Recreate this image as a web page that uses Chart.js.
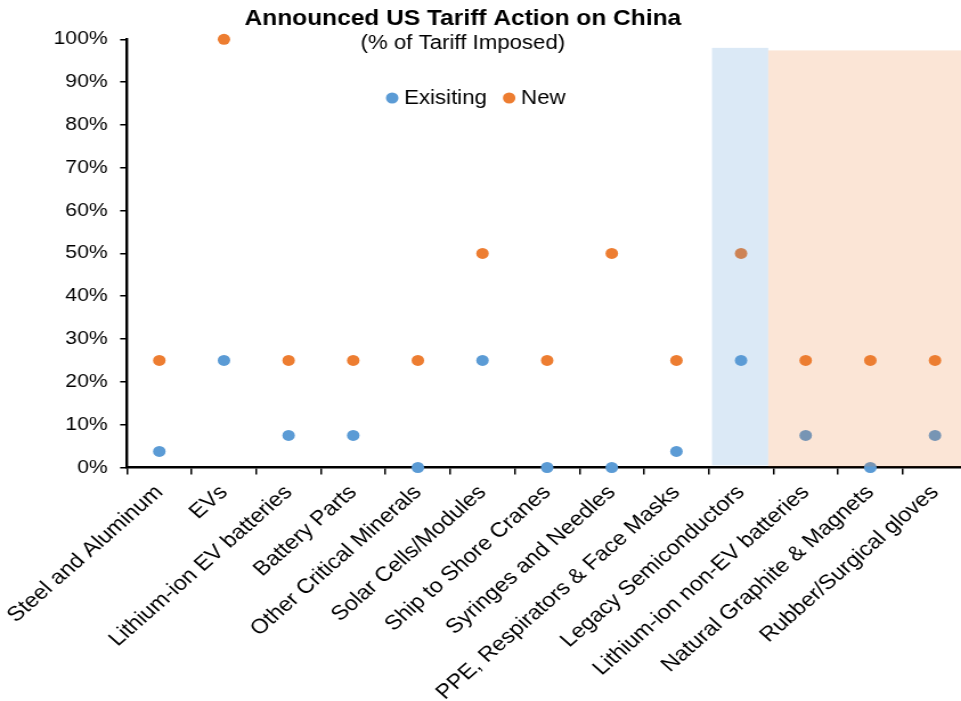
<!DOCTYPE html>
<html>
<head>
<meta charset="utf-8">
<script src="https://cdn.jsdelivr.net/npm/chart.js@4.4.1/dist/chart.umd.min.js"></script>
<style>
    html, body { margin: 0; padding: 0; background: #fff; overflow: hidden; }
    /* the reference is stretched sideways, so the canvas is too */
    #myChart { transform: scaleX(1.14); transform-origin: 0 0; }
</style>
</head>
<body>
<canvas id="myChart" width="854" height="701"></canvas>
<script>
const categories = [
    "Steel and Aluminum", "EVs", "Lithium-ion EV batteries", "Battery Parts",
    "Other Critical Minerals", "Solar Cells/Modules", "Ship to Shore Cranes",
    "Syringes and Needles", "PPE, Respirators & Face Masks", "Legacy Semiconductors",
    "Lithium-ion non-EV batteries", "Natural Graphite & Magnets", "Rubber/Surgical gloves"
];
const existingTariff = [3.75, 25, 7.5, 7.5, 0, 25, 0, 0, 3.75, 25, 7.5, 0, 7.5];
const newTariff = [25, 100, 25, 25, 25, 50, 25, 50, 25, 50, 25, 25, 25];
const yTicks = [0, 10, 20, 30, 40, 50, 60, 70, 80, 90, 100];

// shaded groups of categories
const blueBandCats = ["Legacy Semiconductors"];
const orangeBandCats = ["Lithium-ion non-EV batteries", "Natural Graphite & Magnets", "Rubber/Surgical gloves"];

const BLUE = '#5B9BD5';
const ORANGE = '#ED7D31';
const FONT = "'Liberation Sans', Arial, sans-serif";

const bandsPlugin = {
    id: 'bands',
    afterDatasetsDraw(chart) {
        const ctx = chart.ctx;
        const x = chart.scales.x, y = chart.scales.y;
        const step = x.getPixelForValue(1) - x.getPixelForValue(0);
        const first = categories.indexOf(blueBandCats[0]);
        const oFirst = categories.indexOf(orangeBandCats[0]);
        ctx.save();
        ctx.fillStyle = 'rgba(91,155,213,0.22)';
        const bl = x.getPixelForValue(first) - 0.45 * step;
        const br = x.getPixelForValue(first + blueBandCats.length - 1) + 0.42 * step;
        ctx.fillRect(bl, y.getPixelForValue(98), br - bl, y.getPixelForValue(0.5) - y.getPixelForValue(98));
        ctx.fillStyle = 'rgba(237,125,49,0.2)';
        const ol = x.getPixelForValue(oFirst) - 0.58 * step;
        ctx.fillRect(ol, y.getPixelForValue(97.4), chart.width - ol, y.getPixelForValue(0) - 1 - y.getPixelForValue(97.4));
        ctx.restore();
    }
};

const titlePlugin = {
    id: 'titles',
    afterDraw(chart) {
        const ctx = chart.ctx;
        ctx.save();
        ctx.fillStyle = '#000';
        ctx.textAlign = 'center';
        ctx.textBaseline = 'alphabetic';
        ctx.font = "bold 21.5px " + FONT;
        ctx.fillText("Announced US Tariff Action on China", 406, 25);
        ctx.font = "19.5px " + FONT;
        ctx.fillText("(% of Tariff Imposed)", 406, 49);

        // legend inside the plot
        ctx.font = "19.5px " + FONT;
        ctx.textAlign = 'left';
        ctx.textBaseline = 'middle';
        let lx = 338.5;
        const ly = 98;
        chart.data.datasets.forEach(ds => {
            ctx.fillStyle = ds.backgroundColor;
            ctx.beginPath();
            ctx.arc(lx + 5.5, ly, 5.5, 0, Math.PI * 2);
            ctx.fill();
            ctx.fillStyle = '#000';
            ctx.fillText(ds.label, lx + 16, ly + 1);
            lx += 16 + ctx.measureText(ds.label).width + 14;
        });
        ctx.restore();
    }
};

const ctx = document.getElementById('myChart').getContext('2d');
new Chart(ctx, {
    type: 'line',
    data: {
        labels: categories,
        datasets: [
            {
                label: 'Exisiting',
                data: existingTariff,
                showLine: false,
                backgroundColor: BLUE,
                borderColor: BLUE,
                pointRadius: 5.5,
                pointBorderWidth: 0,
                clip: false
            },
            {
                label: 'New',
                data: newTariff,
                showLine: false,
                backgroundColor: ORANGE,
                borderColor: ORANGE,
                pointRadius: 5.5,
                pointBorderWidth: 0,
                clip: false
            }
        ]
    },
    options: {
        responsive: false,
        animation: false,
        devicePixelRatio: 1,
        layout: { padding: { top: 39.3, left: 0, right: 0, bottom: 0 } },
        plugins: {
            legend: { display: false },
            title: { display: false },
            tooltip: { enabled: false }
        },
        scales: {
            x: {
                offset: true,
                grid: {
                    offset: true,
                    drawOnChartArea: false,
                    drawTicks: true,
                    tickLength: 7,
                    color: '#000',
                    lineWidth: 1.5
                },
                border: { display: true, color: '#000', width: 2.4 },
                ticks: {
                    autoSkip: false,
                    minRotation: 45,
                    maxRotation: 45,
                    padding: 6,
                    color: '#000',
                    font: { family: FONT, size: 20.5 }
                },
                afterFit: s => {
                    s.height = 233.5;
                    s.paddingLeft = 0;
                    s.paddingRight = 0;
                }
            },
            y: {
                min: 0,
                max: 100,
                afterBuildTicks: s => { s.ticks = yTicks.map(v => ({ value: v })); },
                grid: {
                    drawOnChartArea: false,
                    drawTicks: true,
                    tickLength: 6,
                    color: '#000',
                    lineWidth: 1.5
                },
                border: { display: true, color: '#000', width: 2.4 },
                ticks: {
                    padding: 11,
                    color: '#000',
                    font: { family: FONT, size: 18.5 },
                    callback: v => v + '%'
                },
                afterFit: s => {
                    s.width = 111.4;
                    s.paddingTop = 0;
                    s.paddingBottom = 0;
                }
            }
        }
    },
    plugins: [bandsPlugin, titlePlugin]
});
</script>
</body>
</html>
